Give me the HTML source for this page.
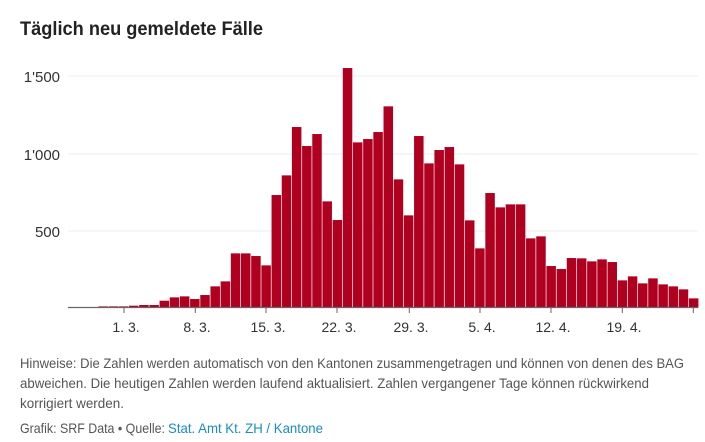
<!DOCTYPE html>
<html><head><meta charset="utf-8"><style>
html,body{margin:0;padding:0;background:#fff;}
svg{display:block;font-family:"Liberation Sans",sans-serif;}
</style></head><body>
<svg width="705" height="442" viewBox="0 0 705 442" xmlns="http://www.w3.org/2000/svg">
<text x="20" y="35" font-size="19" font-weight="bold" fill="#222" textLength="243" lengthAdjust="spacingAndGlyphs">Täglich neu gemeldete Fälle</text>
<g stroke="#ececec" stroke-width="1">
<line x1="68" y1="76" x2="698" y2="76"/><line x1="68" y1="154" x2="698" y2="154"/><line x1="68" y1="231" x2="698" y2="231"/>
</g>
<g font-size="15" fill="#333" text-anchor="end">
<text x="60" y="82">1'500</text><text x="60" y="160">1'000</text><text x="60" y="237">500</text>
</g>
<g id="bars" fill="#af0020"></g>
<line x1="68" y1="307.5" x2="698" y2="307.5" stroke="#666" stroke-width="1.2"/>
<g stroke="#666" stroke-width="1">
<line x1="124" y1="307" x2="124" y2="313"/><line x1="195.3" y1="307" x2="195.3" y2="313"/><line x1="266" y1="307" x2="266" y2="313"/><line x1="337" y1="307" x2="337" y2="313"/><line x1="409.3" y1="307" x2="409.3" y2="313"/><line x1="480" y1="307" x2="480" y2="313"/><line x1="551" y1="307" x2="551" y2="313"/><line x1="622.3" y1="307" x2="622.3" y2="313"/><line x1="693.3" y1="307" x2="693.3" y2="313"/>
</g>
<g font-size="14" fill="#333" text-anchor="middle">
<text x="126" y="332">1. 3.</text><text x="197" y="332">8. 3.</text><text x="268" y="332">15. 3.</text><text x="339" y="332">22. 3.</text><text x="411" y="332">29. 3.</text><text x="482" y="332">5. 4.</text><text x="553" y="332">12. 4.</text><text x="624" y="332">19. 4.</text>
</g>
<g font-size="14" fill="#555">
<text x="20" y="368" textLength="664" lengthAdjust="spacingAndGlyphs">Hinweise: Die Zahlen werden automatisch von den Kantonen zusammengetragen und können von denen des BAG</text>
<text x="20" y="388" textLength="629" lengthAdjust="spacingAndGlyphs">abweichen. Die heutigen Zahlen werden laufend aktualisiert. Zahlen vergangener Tage können rückwirkend</text>
<text x="20" y="408" textLength="104" lengthAdjust="spacingAndGlyphs">korrigiert werden.</text>
<text x="20" y="433" textLength="145" lengthAdjust="spacingAndGlyphs">Grafik: SRF Data • Quelle:</text>
<text x="168" y="433" fill="#1a8bc6" textLength="155" lengthAdjust="spacingAndGlyphs">Stat. Amt Kt. ZH / Kantone</text>
</g>
<g fill="#af0020">
<script>
</script>
</g>
</svg>
<script>
var tops=[741,739,739,739,737,735,735,722,712,709,717,705,679,664,580,580,588,616,405,346,201,258,222,424,480,24,247,237,216,139,358,466,228,310,270,261,313,481,565,399,442,433,433,535,529,618,627,594,595,604,598,606,661,649,670,655,673,679,688,715];
var g=document.getElementById('bars'),ns='http://www.w3.org/2000/svg';
tops.forEach(function(t,i){var h=(743-t)/3;var r=document.createElementNS(ns,'rect');
r.setAttribute('x',(88.3+i*10.18).toFixed(2));r.setAttribute('y',(307.7-h).toFixed(2));
r.setAttribute('width','9.5');r.setAttribute('height',h.toFixed(2));g.appendChild(r);});
</script>
</body></html>
